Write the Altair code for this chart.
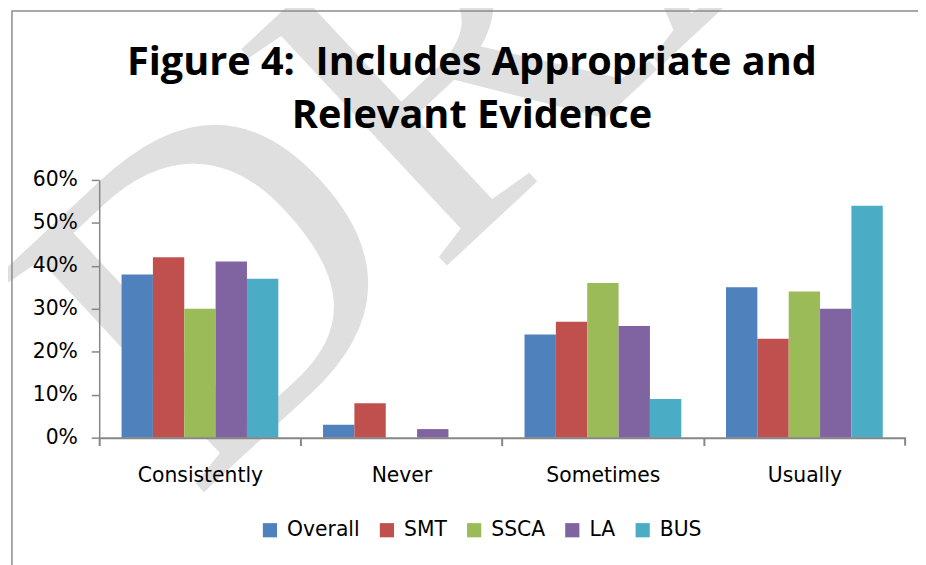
import altair as alt
import pandas as pd

categories = ["Consistently", "Never", "Sometimes", "Usually"]
series = ["Overall", "SMT", "SSCA", "LA", "BUS"]
overall = [38, 3, 24, 35]
smt = [42, 8, 27, 23]
ssca = [30, 0, 36, 34]
la = [41, 2, 26, 30]
bus = [37, 0, 9, 54]
colors = ["#4F81BD", "#C0504D", "#9BBB59", "#8064A2", "#4BACC6"]
y_ticks = [0, 0.1, 0.2, 0.3, 0.4, 0.5, 0.6]
title_lines = ["Figure 4:\u00a0 Includes Appropriate and", "Relevant Evidence"]

rows = []
for s, vals in zip(series, [overall, smt, ssca, la, bus]):
    for c, v in zip(categories, vals):
        rows.append({"category": c, "series": s, "value": v / 100})
df = pd.DataFrame(rows)

W, H = 813, 260
AXIS = "#868686"
LABEL_FONT = "DejaVu Sans"
LABEL_SIZE = 20.5
one = pd.DataFrame({"a": [0]})

watermark = alt.Chart(one).mark_text(
    text="DRAFT", font="Liberation Sans Narrow", fontSize=460, angle=317,
    align="left", baseline="alphabetic", color="#DFDFDF"
).encode(x=alt.value(96), y=alt.value(324))

frame_left = alt.Chart(one).mark_rule(color="#8C8C8C", strokeWidth=1.5).encode(
    x=alt.value(-88), y=alt.value(-171), y2=alt.value(H + 200))
frame_top = alt.Chart(one).mark_rule(color="#8C8C8C", strokeWidth=1.5).encode(
    x=alt.value(-88), x2=alt.value(W + 40), y=alt.value(-170.5))

title = alt.Chart(one).mark_text(
    text=title_lines, font="Open Sans", fontSize=40, fontWeight="bold", color="black",
    align="center", baseline="alphabetic", lineHeight=54
).encode(x=alt.value(376), y=alt.value(-106))

bars = alt.Chart(df).mark_bar().encode(
    x=alt.X("category:N", sort=categories, title=None,
            scale=alt.Scale(paddingInner=0.222, paddingOuter=0.111),
            axis=alt.Axis(labelAngle=0, labelFont=LABEL_FONT, labelFontSize=LABEL_SIZE,
                          labelColor="black", labelPadding=20, zindex=1,
                          domainColor=AXIS, domainWidth=2, tickColor=AXIS,
                          tickWidth=2, tickSize=8, bandPosition=0,
                          tickOffset=-22.6, labelOffset=22.6)),
    xOffset=alt.XOffset("series:N", sort=series,
                        scale=alt.Scale(paddingInner=0, paddingOuter=0)),
    y=alt.Y("value:Q", title=None, scale=alt.Scale(domain=[0, 0.6], nice=False),
            axis=alt.Axis(values=y_ticks, format=".0%", grid=False, zindex=1,
                          labelFont=LABEL_FONT, labelFontSize=LABEL_SIZE,
                          labelColor="black", labelPadding=14,
                          domainColor=AXIS, domainWidth=1.5,
                          tickColor=AXIS, tickWidth=1.5, tickSize=8)),
    color=alt.Color("series:N", sort=series,
                    scale=alt.Scale(domain=series, range=colors),
                    legend=alt.Legend(title=None, orient="none", direction="horizontal",
                                      legendX=162, legendY=343, zindex=1,
                                      symbolType="square", symbolSize=205,
                                      symbolStrokeWidth=0, labelFont=LABEL_FONT,
                                      labelFontSize=LABEL_SIZE, labelColor="black",
                                      labelOffset=7, columnPadding=17, padding=0)),
)

last_tick = alt.Chart(one).mark_rule(color=AXIS, strokeWidth=2).encode(
    x=alt.value(W), y=alt.value(H), y2=alt.value(H + 8))

chart = alt.layer(watermark, frame_left, frame_top, title, bars, last_tick).properties(
    width=W, height=H,
    autosize=alt.AutoSizeParams(type="none"),
    padding={"left": 92, "top": 171, "right": 13, "bottom": 126},
    background="white",
).configure_view(stroke=None)

chart.save("out.html", embed_options={"renderer": "svg", "actions": False})
